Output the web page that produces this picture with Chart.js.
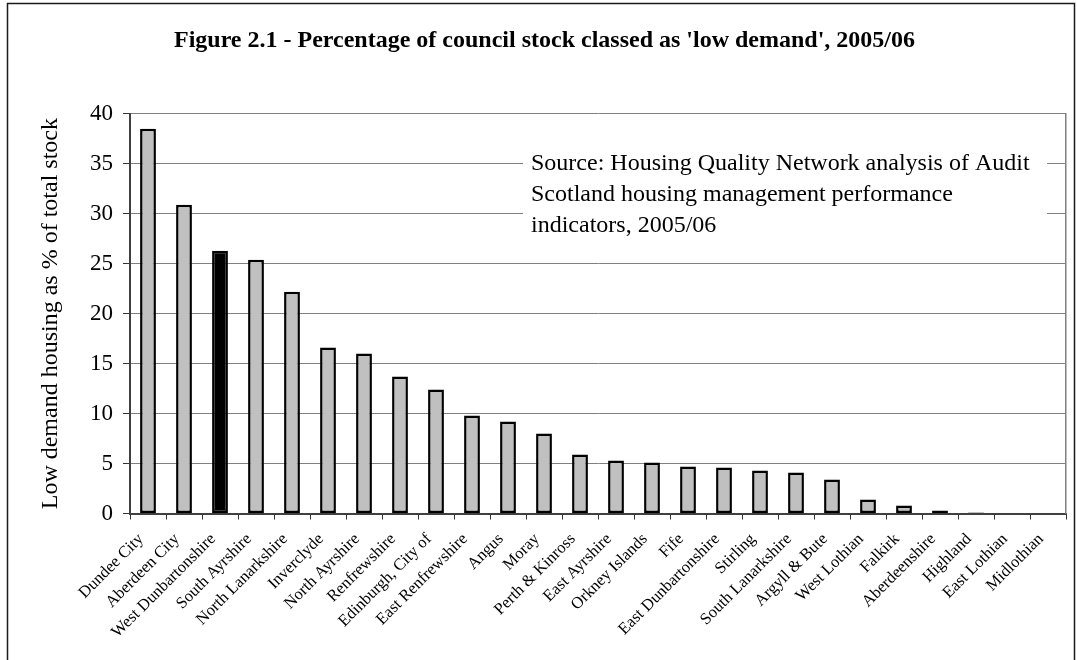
<!DOCTYPE html>
<html>
<head>
<meta charset="utf-8">
<title>Low demand council stock 2005/06</title>
<script src="https://cdn.jsdelivr.net/npm/chart.js@4.4.1/dist/chart.umd.min.js"></script>
<style>
  html, body { margin: 0; padding: 0; background: #fff; }
  #wrap { width: 1077px; height: 660px; }
</style>
</head>
<body>
<div id="wrap"><canvas id="chart" width="1077" height="660"></canvas></div>
<script>
const councils = [
  "Dundee City", "Aberdeen City", "West Dunbartonshire", "South Ayrshire",
  "North Lanarkshire", "Inverclyde", "North Ayrshire", "Renfrewshire",
  "Edinburgh, City of", "East Renfrewshire", "Angus", "Moray",
  "Perth & Kinross", "East Ayrshire", "Orkney Islands", "Fife",
  "East Dunbartonshire", "Stirling", "South Lanarkshire", "Argyll & Bute",
  "West Lothian", "Falkirk", "Aberdeenshire", "Highland",
  "East Lothian", "Midlothian"
];
const lowDemandPct = [
  38.5, 30.9, 26.3, 25.4, 22.2, 16.6, 16.0, 13.7, 12.4, 9.8, 9.2, 8.0,
  5.9, 5.3, 5.1, 4.7, 4.6, 4.3, 4.1, 3.4, 1.4, 0.8, 0.3, 0.1, 0, 0
];
const highlighted = ["West Dunbartonshire"];
const yTicks = [0, 5, 10, 15, 20, 25, 30, 35, 40];
const sourceLines = [
  "Source: Housing Quality Network analysis of Audit",
  "Scotland housing management performance",
  "indicators, 2005/06"
];

const SERIF = "'Liberation Serif', 'Times New Roman', serif";

// white note box over the gridlines, with the source text
const sourceNote = {
  id: "sourceNote",
  beforeDatasetsDraw(chart) {
    const ctx = chart.ctx;
    ctx.save();
    ctx.fillStyle = "#fff";
    ctx.fillRect(523, 146, 524, 104);
    ctx.fillStyle = "#000";
    ctx.font = "24px " + SERIF;
    ctx.textAlign = "left";
    ctx.textBaseline = "alphabetic";
    sourceLines.forEach((line, i) => ctx.fillText(line, 531, 169.5 + i * 31.3));
    ctx.restore();
  }
};

// outer frame round the whole figure
const outerFrame = {
  id: "outerFrame",
  afterDraw(chart) {
    const ctx = chart.ctx;
    ctx.save();
    ctx.strokeStyle = "#1a1a1a";
    ctx.lineWidth = 1.5;
    ctx.strokeRect(7.5, 3.5, 1067, 700);
    ctx.restore();
  }
};

new Chart(document.getElementById("chart"), {
  type: "bar",
  data: {
    labels: councils,
    datasets: [{
      data: lowDemandPct,
      backgroundColor: councils.map((c) => highlighted.includes(c) ? "#000000" : "#c0c0c0"),
      borderColor: "#000000",
      borderWidth: 2.5,
      borderSkipped: false,
      barPercentage: 0.44,
      categoryPercentage: 1.0
    }]
  },
  options: {
    responsive: false,
    animation: false,
    devicePixelRatio: 1,
    layout: { padding: { left: 12, right: 0, top: 0, bottom: 0 } },
    plugins: {
      legend: { display: false },
      tooltip: { enabled: false },
      title: {
        display: true,
        text: "Figure 2.1 - Percentage of council stock classed as 'low demand', 2005/06",
        color: "#000",
        font: { family: SERIF, size: 24, weight: "bold" },
        padding: { top: 26, bottom: 59 }
      }
    },
    scales: {
      x: {
        grid: {
          display: true,
          drawOnChartArea: false,
          tickLength: 6,
          tickColor: "#333",
          offset: true
        },
        border: { color: "#404040", width: 2 },
        ticks: {
          autoSkip: false,
          maxRotation: 45,
          minRotation: 45,
          padding: 10,
          labelOffset: -7,
          color: "#000",
          font: { family: SERIF, size: 16.5 }
        },
        afterFit(scale) { scale.height = 146.5; }
      },
      y: {
        min: 0,
        max: 40,
        afterBuildTicks(scale) { scale.ticks = yTicks.map((v) => ({ value: v })); },
        grid: {
          color: "#808080",
          lineWidth: 1,
          tickLength: 7,
          tickColor: "#333"
        },
        border: { color: "#404040", width: 2 },
        ticks: {
          padding: 10,
          color: "#000",
          font: { family: SERIF, size: 23 }
        },
        title: {
          display: true,
          text: "Low demand housing as % of total stock",
          color: "#000",
          font: { family: SERIF, size: 24 },
          padding: { top: 24, bottom: 0 }
        },
        afterFit(scale) { scale.width = 118; }
      },
      // bare axis on the right, only its line is shown as the plot edge
      yRight: {
        position: "right",
        min: 0,
        max: 40,
        grid: { drawOnChartArea: false, drawTicks: false },
        ticks: { display: false },
        border: { color: "#808080", width: 1.5 },
        afterFit(scale) { scale.width = 11; }
      }
    }
  },
  plugins: [sourceNote, outerFrame]
});
</script>
</body>
</html>
